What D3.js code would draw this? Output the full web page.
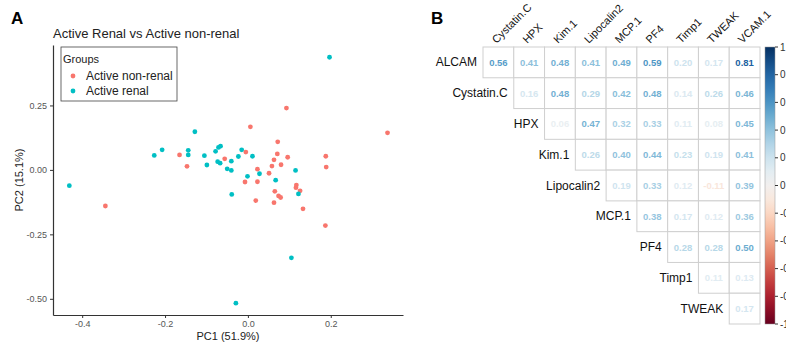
<!DOCTYPE html>
<html>
<head>
<meta charset="utf-8">
<script src="https://cdn.jsdelivr.net/npm/d3@7"></script>
<style>
  body { margin: 0; background: #fff; }
  svg { font-family: 'Liberation Sans', Arial, sans-serif; display: block; }
</style>
</head>
<body>
<svg></svg>
<script>
// PCA scores
const groups = ['Active non-renal', 'Active renal'];
const groupColors = ['#F8766D', '#00BFC4'];

const nonRenalPC1 = [-0.344, -0.165, -0.147, -0.056, 0.006, -0.005, 0.023, -0.007, 0.023, 0.019,
  0.072, 0.071, 0.063, 0.058, 0.080, 0.096, 0.051, 0.065, 0.074, 0.079,
  0.063, 0.117, 0.116, 0.126, 0.133, 0.188, 0.189, 0.093, 0.337, 0.187];
const nonRenalPC2 = [-0.140, 0.058, 0.014, 0.043, 0.167, 0.069, 0.003, -0.047, -0.046, -0.119,
  0.109, 0.062, 0.039, 0.015, 0.020, 0.049, -0.013, -0.083, -0.101, -0.107,
  -0.127, -0.059, -0.069, -0.081, -0.151, 0.053, 0.011, 0.240, 0.144, -0.216];

const renalPC1 = [-0.431, -0.226, -0.207, -0.144, -0.144, -0.128, -0.105, -0.099, -0.078, -0.071,
  -0.066, -0.073, -0.067, -0.040, -0.050, -0.040, -0.039, -0.023, -0.015, 0.011,
  0.028, -0.001, 0.067, 0.115, 0.122, 0.197, 0.105, -0.029];
const renalPC2 = [-0.061, 0.056, 0.078, 0.076, 0.058, 0.148, 0.055, 0.019, 0.072, 0.087,
  0.092, 0.032, 0.026, 0.034, 0.004, -0.002, -0.095, 0.052, 0.078, 0.053,
  -0.015, -0.025, -0.040, -0.002, -0.093, 0.437, -0.341, -0.517];

const xTicks = [-0.4, -0.2, 0.0, 0.2];
const yTicks = [0.25, 0.0, -0.25, -0.5];

// correlation matrix, upper triangle
const rowNames = ['ALCAM', 'Cystatin.C', 'HPX', 'Kim.1', 'Lipocalin2', 'MCP.1', 'PF4', 'Timp1', 'TWEAK'];
const colNames = ['Cystatin.C', 'HPX', 'Kim.1', 'Lipocalin2', 'MCP.1', 'PF4', 'Timp1', 'TWEAK', 'VCAM.1'];
const corrRows = [
  [0.56, 0.41, 0.48, 0.41, 0.49, 0.59, 0.20, 0.17, 0.81],
  [0.16, 0.48, 0.29, 0.42, 0.48, 0.14, 0.26, 0.46],
  [0.06, 0.47, 0.32, 0.33, 0.11, 0.08, 0.45],
  [0.26, 0.40, 0.44, 0.23, 0.19, 0.41],
  [0.19, 0.33, 0.12, -0.11, 0.39],
  [0.38, 0.17, 0.12, 0.36],
  [0.28, 0.28, 0.50],
  [0.11, 0.13],
  [0.17]
];
const barTicks = [1, 0.8, 0.6, 0.4, 0.2, 0, -0.2, -0.4, -0.6, -0.8, -1];

const width = 786;
const height = 344;

const svg = d3.select('svg').attr('width', width).attr('height', height);

// ---------- panel A ----------
svg.append('text').attr('x', 11).attr('y', 24)
  .attr('font-size', 17).attr('font-weight', 'bold').text('A');

svg.append('text').attr('x', 53).attr('y', 38)
  .attr('font-size', 13).attr('fill', '#222').text('Active Renal vs Active non-renal');

const plot = { left: 53, right: 403, top: 45, bottom: 315 };

const x = d3.scaleLinear()
  .domain([(plot.left - 247.9) / 414.3, (plot.right - 247.9) / 414.3])
  .range([plot.left, plot.right]);
const y = d3.scaleLinear()
  .domain([(169.9 - plot.bottom) / 257.8, (169.9 - plot.top) / 257.8])
  .range([plot.bottom, plot.top]);

const xAxis = svg.append('g')
  .attr('transform', 'translate(0,' + plot.bottom + ')')
  .call(d3.axisBottom(x).tickValues(xTicks).tickSize(3).tickSizeOuter(0)
    .tickFormat((d) => { return d.toFixed(1); }));
const yAxis = svg.append('g')
  .attr('transform', 'translate(' + plot.left + ',0)')
  .call(d3.axisLeft(y).tickValues(yTicks).tickSize(3).tickSizeOuter(0)
    .tickFormat((d) => { return d.toFixed(2); }));

[xAxis, yAxis].forEach((a) => {
  a.select('.domain').attr('stroke', '#333').attr('stroke-width', 1.2);
  a.selectAll('.tick line').attr('stroke', '#333');
  a.selectAll('.tick text').attr('fill', '#555').attr('font-size', 9)
    .attr('font-family', 'Liberation Sans, Arial, sans-serif');
});

svg.append('text').attr('x', 228).attr('y', 340).attr('text-anchor', 'middle')
  .attr('font-size', 11).attr('fill', '#222').text('PC1 (51.9%)');
svg.append('text').attr('transform', 'translate(23,' + (plot.top + plot.bottom) / 2 + ') rotate(-90)')
  .attr('text-anchor', 'middle').attr('font-size', 11).attr('fill', '#222').text('PC2 (15.1%)');

const points = [];
nonRenalPC1.forEach((v, i) => { points.push({ pc1: v, pc2: nonRenalPC2[i], g: 0 }); });
renalPC1.forEach((v, i) => { points.push({ pc1: v, pc2: renalPC2[i], g: 1 }); });

svg.append('g').selectAll('circle').data(points).enter().append('circle')
  .attr('cx', (d) => { return x(d.pc1); })
  .attr('cy', (d) => { return y(d.pc2); })
  .attr('r', 2.4)
  .attr('fill', (d) => { return groupColors[d.g]; });

// legend
const legend = svg.append('g');
legend.append('rect').attr('x', 61).attr('y', 47).attr('width', 116).attr('height', 54)
  .attr('fill', '#fff').attr('stroke', '#444').attr('stroke-width', 0.8);
legend.append('text').attr('x', 63).attr('y', 63).attr('font-size', 11).attr('fill', '#222').text('Groups');
groups.forEach((name, i) => {
  legend.append('circle').attr('cx', 73).attr('cy', 76 + i * 15).attr('r', 2.4).attr('fill', groupColors[i]);
  legend.append('text').attr('x', 86).attr('y', 80 + i * 15).attr('font-size', 12)
    .attr('fill', '#222').text(name);
});

// ---------- panel B ----------
svg.append('text').attr('x', 431).attr('y', 24)
  .attr('font-size', 17).attr('font-weight', 'bold').text('B');

const cx = d3.scaleBand().domain(colNames).range([483, 760]);
const cy = d3.scaleBand().domain(rowNames).range([47, 324]);
const color = d3.scaleSequential(d3.interpolateRdBu).domain([-1, 1]);

const cells = [];
corrRows.forEach((row, i) => {
  row.forEach((v, k) => {
    cells.push({ row: rowNames[i], col: colNames[i + k], v: v });
  });
});

const cellG = svg.append('g');
cellG.selectAll('rect').data(cells).enter().append('rect')
  .attr('x', (d) => { return cx(d.col); })
  .attr('y', (d) => { return cy(d.row); })
  .attr('width', cx.bandwidth())
  .attr('height', cy.bandwidth())
  .attr('fill', '#fff')
  .attr('stroke', '#cfcfcf')
  .attr('stroke-width', 1);

cellG.selectAll('text').data(cells).enter().append('text')
  .attr('x', (d) => { return cx(d.col) + cx.bandwidth() / 2; })
  .attr('y', (d) => { return cy(d.row) + cy.bandwidth() / 2 + 3.5; })
  .attr('text-anchor', 'middle')
  .attr('font-size', 9.5)
  .attr('font-weight', 'bold')
  .attr('fill', (d) => { return color(d.v); })
  .text((d) => { return d.v.toFixed(2); });

// row labels sit left of the diagonal
svg.append('g').selectAll('text').data(rowNames).enter().append('text')
  .attr('x', (d, i) => { return cx(colNames[i]) - 6; })
  .attr('y', (d) => { return cy(d) + cy.bandwidth() / 2 + 4; })
  .attr('text-anchor', 'end')
  .attr('font-size', 12)
  .attr('fill', '#111')
  .text((d) => { return d; });

svg.append('g').selectAll('text').data(colNames).enter().append('text')
  .attr('transform', (d) => {
    return 'translate(' + (cx(d) + cx.bandwidth() / 2 - 2) + ',44) rotate(-45)';
  })
  .attr('font-size', 11)
  .attr('fill', '#111')
  .text((d) => { return d; });

// colour bar
const barY = d3.scaleLinear().domain([1, -1]).range([47, 324]);
const grad = svg.append('defs').append('linearGradient')
  .attr('id', 'rdbu').attr('x1', 0).attr('y1', 0).attr('x2', 0).attr('y2', 1);
d3.range(0, 1.0001, 0.05).forEach((t) => {
  grad.append('stop').attr('offset', t).attr('stop-color', color(1 - 2 * t));
});
svg.append('rect').attr('x', 765).attr('y', 47).attr('width', 10).attr('height', 277)
  .attr('fill', 'url(#rdbu)').attr('stroke', '#999').attr('stroke-width', 0.5);

const bar = svg.append('g').selectAll('g').data(barTicks).enter().append('g')
  .attr('transform', (d) => { return 'translate(775,' + barY(d) + ')'; });
bar.append('line').attr('x1', 0).attr('x2', 3).attr('stroke', '#333');
bar.append('text').attr('x', 5).attr('y', 3.5).attr('font-size', 10).attr('fill', '#333')
  .text((d) => { return String(d); });
</script>
</body>
</html>
